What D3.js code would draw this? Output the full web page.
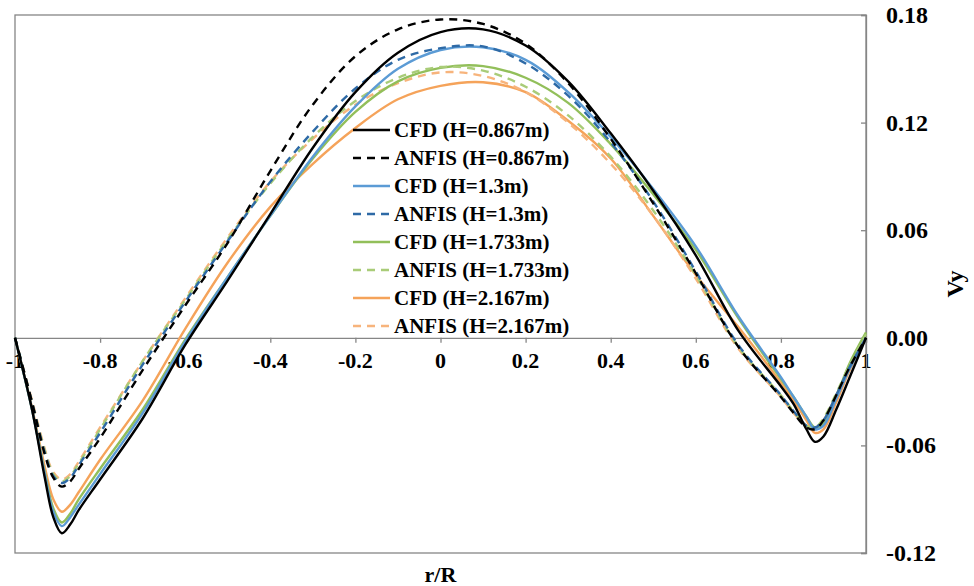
<!DOCTYPE html>
<html>
<head>
<meta charset="utf-8">
<script src="https://cdn.jsdelivr.net/npm/d3@7/dist/d3.min.js"></script>
<style>
  html, body { margin: 0; padding: 0; background: #fff; }
  svg { display: block; }
</style>
</head>
<body>
<svg id="chart" width="974" height="586"></svg>
<script>
// ---- data ----
const rGrid = [-1, -0.96, -0.93, -0.91, -0.89, -0.87, -0.85, -0.8, -0.7, -0.6, -0.5, -0.4, -0.3, -0.2, -0.1, 0,
               0.1, 0.2, 0.3, 0.4, 0.5, 0.6, 0.7, 0.8, 0.83, 0.86, 0.88, 0.9, 0.93, 0.96, 1];

const cfd0867   = [0, -0.040, -0.078, -0.100, -0.109, -0.104, -0.096, -0.079, -0.045, -0.004, 0.032, 0.069, 0.106, 0.137, 0.159, 0.1705,
                   0.1720, 0.163, 0.143, 0.114, 0.082, 0.046, 0.004, -0.027, -0.037, -0.051, -0.058, -0.055, -0.040, -0.023, 0];
const anfis0867 = [0, -0.036, -0.065, -0.078, -0.083, -0.080, -0.073, -0.056, -0.018, 0.018, 0.053, 0.093, 0.130, 0.157, 0.172, 0.1775,
                   0.175, 0.164, 0.142, 0.111, 0.075, 0.036, -0.005, -0.033, -0.042, -0.050, -0.051, -0.046, -0.032, -0.017, 0];
const cfd13     = [0, -0.040, -0.076, -0.097, -0.105, -0.100, -0.093, -0.076, -0.042, -0.002, 0.034, 0.068, 0.101, 0.129, 0.150, 0.1605,
                   0.1620, 0.155, 0.137, 0.112, 0.083, 0.051, 0.012, -0.022, -0.033, -0.044, -0.051, -0.049, -0.034, -0.018, 0];
const anfis13   = [0, -0.036, -0.064, -0.077, -0.081, -0.078, -0.071, -0.053, -0.015, 0.020, 0.054, 0.087, 0.115, 0.139, 0.155, 0.1615,
                   0.1625, 0.153, 0.135, 0.109, 0.076, 0.037, -0.004, -0.032, -0.041, -0.049, -0.050, -0.046, -0.032, -0.017, 0];
const cfd1733   = [0, -0.040, -0.075, -0.095, -0.103, -0.098, -0.090, -0.073, -0.040, -0.001, 0.034, 0.068, 0.100, 0.126, 0.143, 0.1505,
                   0.1515, 0.145, 0.131, 0.108, 0.080, 0.049, 0.011, -0.023, -0.033, -0.044, -0.050, -0.048, -0.033, -0.015, 0.003];
const anfis1733 = [0, -0.036, -0.063, -0.076, -0.080, -0.077, -0.070, -0.051, -0.013, 0.021, 0.055, 0.086, 0.112, 0.132, 0.145, 0.151,
                   0.149, 0.140, 0.124, 0.101, 0.071, 0.035, -0.005, -0.032, -0.041, -0.049, -0.050, -0.045, -0.031, -0.016, 0.002];
const cfd2167   = [0, -0.039, -0.072, -0.090, -0.097, -0.093, -0.086, -0.068, -0.035, 0.005, 0.042, 0.073, 0.097, 0.117, 0.133, 0.1405,
                   0.1425, 0.137, 0.121, 0.100, 0.068, 0.035, 0.006, -0.025, -0.035, -0.046, -0.053, -0.051, -0.036, -0.019, 0];
const anfis2167 = [0, -0.035, -0.062, -0.075, -0.079, -0.076, -0.069, -0.050, -0.013, 0.022, 0.056, 0.087, 0.111, 0.130, 0.142, 0.148,
                   0.146, 0.137, 0.120, 0.097, 0.068, 0.033, -0.006, -0.033, -0.042, -0.049, -0.051, -0.046, -0.032, -0.017, 0];

const seriesNames  = ["CFD (H=0.867m)", "ANFIS (H=0.867m)", "CFD (H=1.3m)", "ANFIS (H=1.3m)",
                      "CFD (H=1.733m)", "ANFIS (H=1.733m)", "CFD (H=2.167m)", "ANFIS (H=2.167m)"];
const seriesValues = [cfd0867, anfis0867, cfd13, anfis13, cfd1733, anfis1733, cfd2167, anfis2167];
const seriesColors = ["#000000", "#000000", "#5b9bd5", "#2e6aa6", "#92bf5a", "#a9cc78", "#f5a35a", "#f7b47c"];
const seriesDashed = [false, true, false, true, false, true, false, true];

const xTicks = [-1, -0.8, -0.6, -0.4, -0.2, 0, 0.2, 0.4, 0.6, 0.8, 1];
const xTickLabels = ["-1", "-0.8", "-0.6", "-0.4", "-0.2", "0", "0.2", "0.4", "0.6", "0.8", "1"];
const yTicks = [-0.12, -0.06, 0, 0.06, 0.12, 0.18];
const yTickLabels = ["-0.12", "-0.06", "0.00", "0.06", "0.12", "0.18"];

// ---- drawing ----
const FONT = "'Liberation Serif', 'Times New Roman', serif";
const svg = d3.select("#chart");
const x = d3.scaleLinear().domain([-1, 1]).range([15, 866]);
const y = d3.scaleLinear().domain([-0.12, 0.18]).range([553, 15]);
const axisColor = "#868686";

function label(sel) {
  return sel.style("font-family", FONT).style("font-weight", "bold").attr("fill", "#000");
}

// frame
svg.append("rect")
  .attr("x", x(-1)).attr("y", y(0.18))
  .attr("width", x(1) - x(-1)).attr("height", y(-0.12) - y(0.18))
  .attr("fill", "none").attr("stroke", axisColor).attr("stroke-width", 1.3);

// x axis on zero line
const xAxis = d3.axisBottom(x).tickValues(xTicks).tickSize(5).tickFormat("");
const gx = svg.append("g").attr("transform", `translate(0,${y(0)})`).call(xAxis);
gx.select(".domain").attr("stroke", axisColor).attr("stroke-width", 1.3);
gx.selectAll(".tick line").attr("stroke", axisColor).attr("stroke-width", 1.3);

svg.append("g").selectAll("text").data(xTicks).join("text")
  .attr("x", d => x(d)).attr("y", y(0) + 30)
  .attr("text-anchor", "middle")
  .style("font-size", "22px")
  .call(label)
  .text((d, i) => xTickLabels[i]);

// y axis on right
const yAxis = d3.axisLeft(y).tickValues(yTicks).tickSize(5).tickFormat("");
const gy = svg.append("g").attr("transform", `translate(${x(1)},0)`).call(yAxis);
gy.select(".domain").attr("stroke", axisColor).attr("stroke-width", 1.3);
gy.selectAll(".tick line").attr("stroke", axisColor).attr("stroke-width", 1.3);

svg.append("g").selectAll("text").data(yTicks).join("text")
  .attr("x", 886).attr("y", d => y(d) + 8)
  .attr("text-anchor", "start")
  .style("font-size", "24px")
  .call(label)
  .text((d, i) => yTickLabels[i]);

// axis titles
svg.append("text").attr("x", x(0)).attr("y", 582).attr("text-anchor", "middle")
  .style("font-size", "22px").call(label).text("r/R");
svg.append("text").attr("transform", `translate(963,${y(0.03)}) rotate(-90)`)
  .attr("text-anchor", "middle").style("font-size", "24px").call(label).text("Vy");

// curves
const line = d3.line().x(d => x(d[0])).y(d => y(d[1])).curve(d3.curveCatmullRom.alpha(0.5));
const drawOrder = [6, 7, 4, 5, 2, 3, 0, 1];
svg.append("g").selectAll("path").data(drawOrder).join("path")
  .attr("d", i => line(rGrid.map((r, k) => [r, seriesValues[i][k]])))
  .attr("fill", "none")
  .attr("stroke", i => seriesColors[i])
  .attr("stroke-width", 2.4)
  .attr("stroke-dasharray", i => seriesDashed[i] ? "8,6" : null);

// legend
const lg = svg.append("g");
seriesNames.forEach((name, i) => {
  const cy = 130 + i * 28;
  lg.append("line").attr("x1", 353).attr("x2", 390).attr("y1", cy).attr("y2", cy)
    .attr("stroke", seriesColors[i]).attr("stroke-width", 2.4)
    .attr("stroke-dasharray", seriesDashed[i] ? "8,6" : null);
  lg.append("text").attr("x", 394).attr("y", cy + 7).style("font-size", "21px").call(label).text(name);
});
</script>
</body>
</html>
